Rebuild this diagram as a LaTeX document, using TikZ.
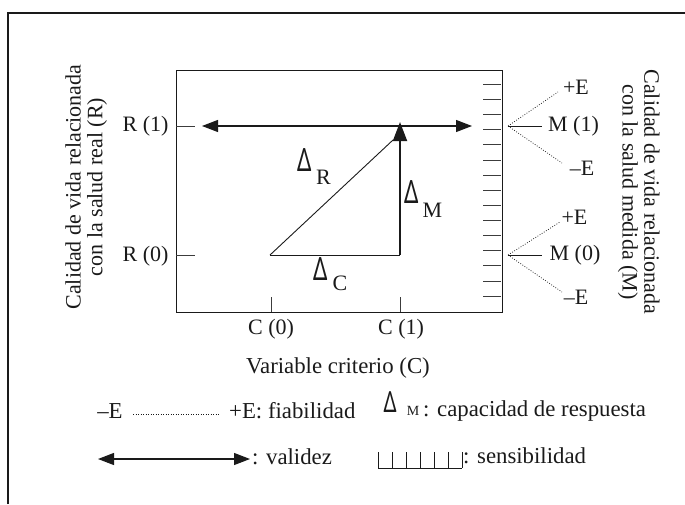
\documentclass[tikz,border=0pt]{standalone}
\usepackage{fontspec}
\usepackage{graphicx}
\setmainfont{Liberation Serif}
\newfontfamily\deltafont{Noto Sans}
\usetikzlibrary{arrows.meta}
\definecolor{ink}{HTML}{1A1A1A}
\newcommand\bigdelta[1][32]{\scalebox{0.7}[1]{\deltafont\fontsize{#1}{#1}\selectfont Δ}}
\begin{document}
\begin{tikzpicture}[x=1pt,y=-1pt,
  font=\fontsize{22}{24}\selectfont,
  lbl/.style={inner sep=0pt, text=ink},
  biglbl/.style={inner sep=0pt, text=ink, font=\fontsize{22.8}{25}\selectfont},
  ln/.style={draw=ink, line width=0.9pt},
  thickln/.style={draw=ink, line width=1.8pt},
  tickln/.style={draw=ink!85, line width=1pt},
  dotln/.style={draw=ink, line width=0.75pt, dash pattern=on 0.8pt off 1.7pt},
  bothtips/.style={{Triangle[length=16pt,width=12pt]}-{Triangle[length=16pt,width=12pt]}}]
\useasboundingbox (0,0) rectangle (685,504);
% outer frame (only top and left edges visible)
\coordinate (fbl) at (8,504);
\coordinate (ftl) at (8,13);
\coordinate (ftr) at (685,13);
\draw[ln, line width=1.2pt] (fbl) -- (ftl) -- (ftr);
% main box
\coordinate (boxtl) at (176,70);
\coordinate (boxbr) at (502,312);
\draw[ln] (boxtl) rectangle (boxbr);
% left ticks and labels
\coordinate (r1a) at (176,126); \coordinate (r1b) at (195,126);
\coordinate (r0a) at (176,255); \coordinate (r0b) at (195,255);
\draw[tickln] (r1a) -- (r1b);
\draw[tickln] (r0a) -- (r0b);
\node[lbl] (R1) at (145.5,126) {R (1)};
\node[lbl] (R0) at (145.5,256) {R (0)};
% bottom ticks and labels
\coordinate (c0a) at (271,297); \coordinate (c0b) at (271,312);
\coordinate (c1a) at (400,297); \coordinate (c1b) at (400,312);
\draw[tickln] (c0a) -- (c0b);
\draw[tickln] (c1a) -- (c1b);
\node[lbl] (C0) at (271,329) {C (0)};
\node[lbl] (C1) at (401,329) {C (1)};
\node[biglbl] (VC) at (338,368) {Variable criterio (C)};
% vertical axis titles
\node[lbl, rotate=90] (Ltitle1) at (73,187) {Calidad de vida relacionada};
\node[lbl, rotate=90] (Ltitle2) at (97,187) {con la salud real (R)};
\node[lbl, rotate=-90] (Rtitle1) at (652,192) {Calidad de vida relacionada};
\node[lbl, rotate=-90] (Rtitle2) at (628,192) {con la salud medida (M)};
% validity arrow
\coordinate (valL) at (202,126);
\coordinate (valR) at (472,126);
\draw[ln, line width=1.1pt, bothtips] (valL) -- (valR);
% triangle
\coordinate (P0) at (270,255);
\coordinate (P1) at (400,255);
\coordinate (Ptop) at (400,122);
\coordinate (Pdiag) at (393,140);
\draw[ln] (P0) -- (P1);
\draw[ln] (P0) -- (Pdiag);
\draw[thickln, -{Triangle[length=19pt,width=14pt]}] (P1) -- (Ptop);
% delta labels
\node[lbl] (dR) at (305,160) {\bigdelta};
\node[lbl] (dRs) at (323.5,177) {R};
\node[lbl] (dM) at (411.5,192.5) {\bigdelta};
\node[lbl] (dMs) at (432.5,210.5) {M};
\node[lbl] (dC) at (320.5,269.5) {\bigdelta};
\node[lbl] (dCs) at (340,283.5) {C};
% sensitivity ticks on right
\foreach \k in {0,...,14} {
  \coordinate (tka\k) at (483,84.3+15.14*\k);
  \coordinate (tkb\k) at (501,84.3+15.14*\k);
  \draw[tickln] (tka\k) -- (tkb\k);
}
% branches M(1)
\coordinate (B1) at (508,126);
\coordinate (B1s) at (542,126);
\coordinate (B1u) at (558,92);
\coordinate (B1d) at (562,163);
\draw[ln] (B1) -- (B1s);
\draw[dotln] (B1) -- (B1u);
\draw[dotln] (B1) -- (B1d);
\node[lbl] (M1) at (573.5,126) {M (1)};
\node[lbl] (E1p) at (576,87) {+E};
\node[lbl] (E1m) at (582,168) {–E};
% branches M(0)
\coordinate (B0) at (508,255);
\coordinate (B0s) at (542,255);
\coordinate (B0u) at (560,222);
\coordinate (B0d) at (562,292);
\draw[ln] (B0) -- (B0s);
\draw[dotln] (B0) -- (B0u);
\draw[dotln] (B0) -- (B0d);
\node[lbl] (M0) at (575,255) {M (0)};
\node[lbl] (E0p) at (574.5,217) {+E};
\node[lbl] (E0m) at (576,297) {–E};
% legend row 1
\node[biglbl] (LEm) at (110,411) {–E};
\coordinate (Ld1) at (133,414);
\coordinate (Ld2) at (220,414);
\draw[dotln] (Ld1) -- (Ld2);
\node[biglbl, anchor=west] (LEp) at (229,411) {+E: fiabilidad};
\node[lbl] (LdM) at (390,402.5) {\bigdelta[29]};
\node[lbl, font=\fontsize{14}{16}\selectfont] (LdMs) at (413,411) {M};
\node[biglbl, anchor=west] (Lcap) at (423,411) {: capacidad de respuesta};
% legend row 2
\coordinate (Lv1) at (98,459);
\coordinate (Lv2) at (250,459);
\draw[ln, line width=1.1pt, bothtips] (Lv1) -- (Lv2);
\node[biglbl, anchor=west] (Lval) at (252,457) {: validez};
\coordinate (Rul1) at (378,468);
\coordinate (Rul2) at (462,468);
\draw[ln, line width=0.7pt] (Rul1) -- (Rul2);
\foreach \k in {0,...,6} {
  \coordinate (rt\k) at (378+14*\k,452);
  \coordinate (rb\k) at (378+14*\k,468);
  \draw[ln, line width=0.7pt] (rt\k) -- (rb\k);
}
\node[biglbl, anchor=west] (Lsen) at (463,456) {: sensibilidad};
\end{tikzpicture}
\end{document}
